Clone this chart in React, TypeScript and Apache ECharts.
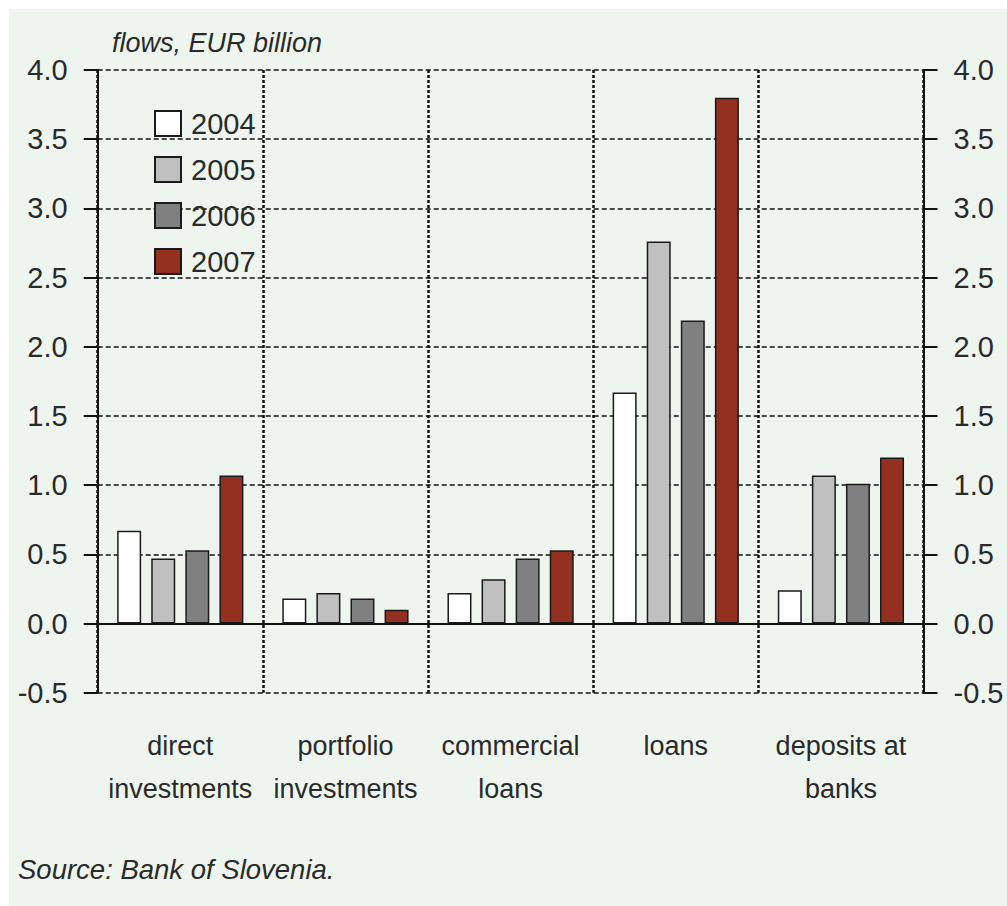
import React, { useEffect, useRef } from "react";
import * as echarts from "echarts";

const categories = [
  "direct\ninvestments",
  "portfolio\ninvestments",
  "commercial\nloans",
  "loans",
  "deposits at\nbanks",
];
const years = ["2004", "2005", "2006", "2007"];
const values2004 = [0.67, 0.18, 0.22, 1.67, 0.24];
const values2005 = [0.47, 0.22, 0.32, 2.76, 1.07];
const values2006 = [0.53, 0.18, 0.47, 2.19, 1.01];
const values2007 = [1.07, 0.1, 0.53, 3.8, 1.2];
const seriesValues = [values2004, values2005, values2006, values2007];
const colors = ["#ffffff", "#c0c0c0", "#808080", "#943020"];
const yMin = -0.5;
const yMax = 4;
const yStep = 0.5;

const FONT = "'Liberation Sans', Arial, sans-serif";

export default function App() {
  const ref = useRef<HTMLDivElement>(null);
  useEffect(() => {
    if (!ref.current) return;
    const chart = echarts.init(ref.current, null, { renderer: "svg" });
    const yAxisBase = {
      type: "value",
      min: yMin,
      max: yMax,
      interval: yStep,
      axisLine: { show: true, lineStyle: { color: "#111", width: 2 } },
      axisTick: { show: true, length: 14, lineStyle: { color: "#111", width: 2 } },
      axisLabel: {
        color: "#2a2a2a",
        fontSize: 29,
        fontFamily: FONT,
        margin: 30,
        formatter: (v: number) => v.toFixed(1),
      },
    };
    chart.setOption({
      animation: false,
      backgroundColor: "#ffffff",
      textStyle: { fontFamily: FONT },
      graphic: [
        {
          type: "rect",
          z: -10,
          silent: true,
          shape: { x: 9, y: 9, width: 1007 - 9, height: 906 - 9 },
          style: { fill: "#eef5ef" },
        },
        {
          type: "text",
          x: 112,
          y: 43,
          style: {
            text: "flows, EUR billion",
            fontSize: 27,
            fontStyle: "italic",
            fontFamily: FONT,
            fill: "#2a2a2a",
            verticalAlign: "middle",
          },
        },
        {
          type: "text",
          x: 18,
          y: 869,
          style: {
            text: "Source: Bank of Slovenia.",
            fontSize: 27.5,
            fontStyle: "italic",
            fontFamily: FONT,
            fill: "#2a2a2a",
            verticalAlign: "middle",
          },
        },
      ],
      legend: {
        orient: "vertical",
        left: 154,
        top: 109,
        padding: 0,
        itemWidth: 26,
        itemHeight: 25,
        itemGap: 17,
        icon: "rect",
        data: years,
        textStyle: {
          fontSize: 29,
          color: "#2a2a2a",
          fontFamily: FONT,
          padding: [0, 0, 0, 5],
        },
      },
      grid: { left: 97.7, right: 83.5, top: 70, bottom: 213.3, containLabel: false },
      xAxis: {
        type: "category",
        data: categories,
        axisLine: { show: true, onZero: true, lineStyle: { color: "#111", width: 2 } },
        axisTick: { show: false },
        axisLabel: {
          interval: 0,
          margin: 32,
          fontSize: 27,
          lineHeight: 43,
          color: "#2a2a2a",
          fontFamily: FONT,
        },
        splitLine: {
          show: true,
          interval: 0,
          lineStyle: { color: "#111", width: 2.5, type: [3, 2] },
        },
      },
      yAxis: [
        {
          ...yAxisBase,
          position: "left",
          splitLine: { show: true, lineStyle: { color: "#111", width: 1.5, type: [5, 3] } },
        },
        {
          ...yAxisBase,
          position: "right",
          splitLine: { show: false },
        },
      ],
      series: years.map((y, i) => ({
        name: y,
        type: "bar",
        data: seriesValues[i],
        barWidth: 24,
        barGap: "42%",
        itemStyle: { color: colors[i], borderColor: "#1a1a1a", borderWidth: 1.5 },
      })),
    });
    return () => chart.dispose();
  }, []);
  return (
    <div
      ref={ref}
      style={{ position: "absolute", left: 0, top: 0, width: 1007, height: 906 }}
    />
  );
}
